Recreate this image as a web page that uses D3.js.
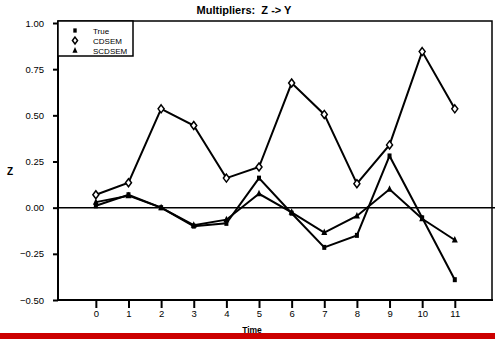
<!DOCTYPE html>
<html>
<head>
<meta charset="utf-8">
<script src="https://cdn.jsdelivr.net/npm/d3@7"></script>
<style>
  body { margin: 0; background: #fff; }
  text { font-family: "Liberation Sans", Arial, sans-serif; }
</style>
</head>
<body>
<div id="chart"></div>
<script>
// data
const times = [0, 1, 2, 3, 4, 5, 6, 7, 8, 9, 10, 11];
const trueVals = [0.01, 0.07, 0.00, -0.10, -0.085, 0.16, -0.03, -0.215, -0.15, 0.28, -0.055, -0.39];
const cdsemVals = [0.07, 0.135, 0.535, 0.445, 0.16, 0.22, 0.675, 0.505, 0.13, 0.34, 0.845, 0.535];
const scdsemVals = [0.03, 0.065, 0.00, -0.095, -0.065, 0.075, -0.025, -0.135, -0.045, 0.10, -0.06, -0.175];
const yTicks = [-0.5, -0.25, 0, 0.25, 0.5, 0.75, 1.0];

const W = 495, H = 339;
const svg = d3.select("#chart").append("svg")
    .attr("width", W)
    .attr("height", H);

const box = {left: 58, right: 492, top: 21, bottom: 300};

let x = d3.scaleLinear().domain([-1.16, 12.14]).range([box.left, box.right]);
let y = d3.scaleLinear().domain([-0.5, 1.0]).range([300, 23]);

// title
svg.append("text")
    .attr("x", 244).attr("y", 14)
    .attr("text-anchor", "middle")
    .style("font-size", "11px").style("font-weight", "bold")
    .style("white-space", "pre")
    .text("Multipliers:  Z -> Y");

// frame
svg.append("rect")
    .attr("x", box.left).attr("y", box.top)
    .attr("width", box.right - box.left).attr("height", box.bottom - box.top)
    .attr("fill", "none").attr("stroke", "#000").attr("stroke-width", 1.5);
svg.append("line")
    .attr("x1", box.left).attr("x2", box.left).attr("y1", box.top).attr("y2", box.bottom + 1)
    .attr("stroke", "#000").attr("stroke-width", 2);
svg.append("line")
    .attr("x1", box.left - 1).attr("x2", box.right + 1).attr("y1", box.bottom).attr("y2", box.bottom)
    .attr("stroke", "#000").attr("stroke-width", 2);

// y axis
let yAxis = svg.append("g")
    .attr("transform", "translate(" + box.left + ",0)")
    .call(d3.axisLeft(y).tickValues(yTicks).tickFormat(d3.format(".2f")).tickSize(5).tickPadding(9));
yAxis.select(".domain").remove();
yAxis.selectAll("line").attr("stroke-width", 2);
yAxis.selectAll("text").style("font-size", "9.5px").style("font-family", "Liberation Sans, Arial, sans-serif");

// x axis
let xAxis = svg.append("g")
    .attr("transform", "translate(0," + box.bottom + ")")
    .call(d3.axisBottom(x).tickValues(times).tickFormat(d3.format("d")).tickSize(8).tickPadding(2));
xAxis.select(".domain").remove();
xAxis.selectAll("line").attr("stroke-width", 2);
xAxis.selectAll("text").style("font-size", "9.5px").style("font-family", "Liberation Sans, Arial, sans-serif");

// axis titles
svg.append("text")
    .attr("x", 252).attr("y", 333)
    .attr("text-anchor", "middle")
    .style("font-size", "8.5px").style("font-weight", "bold")
    .text("Time");
svg.append("text")
    .attr("x", 10).attr("y", 175)
    .attr("text-anchor", "middle")
    .style("font-size", "10px").style("font-weight", "bold")
    .text("Z");

// zero line
svg.append("line")
    .attr("x1", box.left).attr("x2", W).attr("y1", y(0)).attr("y2", y(0))
    .attr("stroke", "#000").attr("stroke-width", 1.5);

// series
const series = [
    {name: "True", vals: trueVals, shape: "square"},
    {name: "CDSEM", vals: cdsemVals, shape: "diamond"},
    {name: "SCDSEM", vals: scdsemVals, shape: "triangle"}
];

let line = d3.line().x((d, i) => x(times[i])).y(d => y(d));

function drawMarker(g, shape, cx, cy, sc = 1) {
    if (shape === "square") {
        g.append("rect").attr("x", cx - 2 * sc).attr("y", cy - 2.5 * sc).attr("width", 4 * sc).attr("height", 5 * sc).attr("fill", "#000");
    } else if (shape === "diamond") {
        g.append("path")
            .attr("d", `M${cx},${cy - 4 * sc}L${cx + 3 * sc},${cy}L${cx},${cy + 4 * sc}L${cx - 3 * sc},${cy}Z`)
            .attr("fill", "#fff").attr("stroke", "#000").attr("stroke-width", 1.5);
    } else {
        g.append("path")
            .attr("d", `M${cx},${cy - 4 * sc}L${cx + 3 * sc},${cy + 2.5 * sc}L${cx - 3 * sc},${cy + 2.5 * sc}Z`)
            .attr("fill", "#000");
    }
}

series.forEach(s => {
    let g = svg.append("g");
    g.append("path")
        .datum(s.vals)
        .attr("d", line)
        .attr("fill", "none")
        .attr("stroke", "#000")
        .attr("stroke-width", 2)
        .attr("stroke-linejoin", "miter");
    s.vals.forEach((v, i) => drawMarker(g, s.shape, x(times[i]), y(v)));
});

// legend
let legend = svg.append("g");
legend.append("rect")
    .attr("x", box.left).attr("y", box.top)
    .attr("width", 75).attr("height", 35)
    .attr("fill", "#fff").attr("stroke", "#000").attr("stroke-width", 1.5);
series.forEach((s, i) => {
    let ly = 30.5 + i * 10;
    drawMarker(legend, s.shape, 75, ly, 0.85);
    legend.append("text")
        .attr("x", 93).attr("y", ly + 3)
        .style("font-size", "8px")
        .text(s.name);
});

// red bar at the bottom
svg.append("rect")
    .attr("x", 0).attr("y", 333)
    .attr("width", W).attr("height", 6)
    .attr("fill", "#cc0000");
</script>
</body>
</html>
